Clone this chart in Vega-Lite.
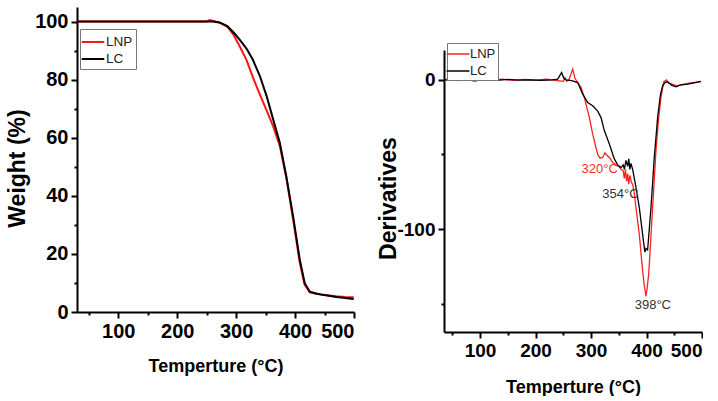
{
  "$schema": "https://vega.github.io/schema/vega-lite/v6.json",
  "background": "white",
  "padding": {"left": 6, "top": 7, "right": 0, "bottom": 0},
  "config": {
    "view": {"stroke": null},
    "axis": {
      "grid": false,
      "domainColor": "#000",
      "domainWidth": 2,
      "tickColor": "#000",
      "tickWidth": 2,
      "labelFont": "Liberation Sans Narrow, Liberation Sans",
      "labelFontWeight": "bold",
      "labelFontSize": 20,
      "labelColor": "#000",
      "labelPadding": 3,
      "titleFont": "Liberation Sans",
      "titleFontWeight": "bold",
      "titleColor": "#000"
    },
    "legend": {
      "fillColor": "white",
      "strokeColor": "#777",
      "padding": 3,
      "symbolType": "M-1.3,0H1.3",
      "symbolSize": 300,
      "symbolStrokeWidth": 2,
      "labelFont": "Liberation Sans Narrow, Liberation Sans",
      "labelFontSize": 13.5,
      "labelColor": "#222",
      "labelOffset": 3,
      "rowPadding": 0
    }
  },
  "datasets": {
    "tga": [
      {"s": "LNP", "T": 30, "W": 100}, {"s": "LNP", "T": 100, "W": 100}, {"s": "LNP", "T": 200, "W": 100}, {"s": "LNP", "T": 250, "W": 100},
      {"s": "LNP", "T": 255, "W": 100.5}, {"s": "LNP", "T": 260, "W": 100.3}, {"s": "LNP", "T": 265, "W": 100}, {"s": "LNP", "T": 272, "W": 99.6},
      {"s": "LNP", "T": 285, "W": 98.2}, {"s": "LNP", "T": 295, "W": 95.6}, {"s": "LNP", "T": 306, "W": 91.5}, {"s": "LNP", "T": 317.5, "W": 86.8},
      {"s": "LNP", "T": 329, "W": 80.5}, {"s": "LNP", "T": 340, "W": 75}, {"s": "LNP", "T": 351.5, "W": 69.5}, {"s": "LNP", "T": 362.7, "W": 64},
      {"s": "LNP", "T": 374, "W": 57.3}, {"s": "LNP", "T": 385, "W": 46.5}, {"s": "LNP", "T": 396.6, "W": 32}, {"s": "LNP", "T": 408, "W": 17},
      {"s": "LNP", "T": 416, "W": 9.5}, {"s": "LNP", "T": 425, "W": 6.8}, {"s": "LNP", "T": 436, "W": 6.3}, {"s": "LNP", "T": 447, "W": 5.9},
      {"s": "LNP", "T": 470, "W": 5.4}, {"s": "LNP", "T": 485, "W": 5.2}, {"s": "LNP", "T": 499.5, "W": 5.1},
      {"s": "LC", "T": 30, "W": 100}, {"s": "LC", "T": 100, "W": 100}, {"s": "LC", "T": 200, "W": 100}, {"s": "LC", "T": 260, "W": 100},
      {"s": "LC", "T": 272, "W": 99.7}, {"s": "LC", "T": 285, "W": 98.4}, {"s": "LC", "T": 295, "W": 96.4}, {"s": "LC", "T": 305, "W": 94},
      {"s": "LC", "T": 317.6, "W": 90.7}, {"s": "LC", "T": 328, "W": 87}, {"s": "LC", "T": 340, "W": 81.4}, {"s": "LC", "T": 351.5, "W": 74.5},
      {"s": "LC", "T": 362.7, "W": 66.4}, {"s": "LC", "T": 374, "W": 58.4}, {"s": "LC", "T": 385, "W": 46.8}, {"s": "LC", "T": 396.6, "W": 33},
      {"s": "LC", "T": 408, "W": 18}, {"s": "LC", "T": 416.4, "W": 9.9}, {"s": "LC", "T": 425, "W": 7}, {"s": "LC", "T": 436, "W": 6.4},
      {"s": "LC", "T": 447, "W": 5.9}, {"s": "LC", "T": 470, "W": 5.2}, {"s": "LC", "T": 485, "W": 4.8}, {"s": "LC", "T": 499.5, "W": 4.5}
    ],
    "dtg": [
      {"s": "LNP", "T": 35, "D": 0}, {"s": "LNP", "T": 45, "D": 0.8}, {"s": "LNP", "T": 60, "D": -0.5}, {"s": "LNP", "T": 75, "D": 0.3},
      {"s": "LNP", "T": 90, "D": -0.8}, {"s": "LNP", "T": 105, "D": 0.4}, {"s": "LNP", "T": 120, "D": -0.3}, {"s": "LNP", "T": 140, "D": 0.5},
      {"s": "LNP", "T": 160, "D": -0.4}, {"s": "LNP", "T": 180, "D": 0.3}, {"s": "LNP", "T": 200, "D": -0.2}, {"s": "LNP", "T": 220, "D": 0.4},
      {"s": "LNP", "T": 240, "D": -0.5}, {"s": "LNP", "T": 250, "D": -1}, {"s": "LNP", "T": 253, "D": 1.5}, {"s": "LNP", "T": 256, "D": -1},
      {"s": "LNP", "T": 260, "D": 0}, {"s": "LNP", "T": 264, "D": 4}, {"s": "LNP", "T": 267, "D": 7.2}, {"s": "LNP", "T": 271, "D": 1},
      {"s": "LNP", "T": 276, "D": -1.8}, {"s": "LNP", "T": 282, "D": -5}, {"s": "LNP", "T": 288, "D": -11.9}, {"s": "LNP", "T": 297, "D": -25.3},
      {"s": "LNP", "T": 303, "D": -36.4}, {"s": "LNP", "T": 308, "D": -44}, {"s": "LNP", "T": 312, "D": -50}, {"s": "LNP", "T": 316, "D": -52.5},
      {"s": "LNP", "T": 321, "D": -52}, {"s": "LNP", "T": 325, "D": -49}, {"s": "LNP", "T": 330, "D": -51}, {"s": "LNP", "T": 335, "D": -53},
      {"s": "LNP", "T": 339, "D": -55.5}, {"s": "LNP", "T": 345, "D": -57}, {"s": "LNP", "T": 350, "D": -58}, {"s": "LNP", "T": 354, "D": -60},
      {"s": "LNP", "T": 358, "D": -61}, {"s": "LNP", "T": 360, "D": -66}, {"s": "LNP", "T": 362, "D": -60}, {"s": "LNP", "T": 364, "D": -68},
      {"s": "LNP", "T": 366, "D": -63}, {"s": "LNP", "T": 368, "D": -70}, {"s": "LNP", "T": 370, "D": -64}, {"s": "LNP", "T": 373, "D": -69},
      {"s": "LNP", "T": 375, "D": -70}, {"s": "LNP", "T": 378, "D": -76}, {"s": "LNP", "T": 381, "D": -85.7}, {"s": "LNP", "T": 387, "D": -103.6},
      {"s": "LNP", "T": 393, "D": -128}, {"s": "LNP", "T": 396, "D": -138}, {"s": "LNP", "T": 399, "D": -145}, {"s": "LNP", "T": 401, "D": -140},
      {"s": "LNP", "T": 404, "D": -130}, {"s": "LNP", "T": 408, "D": -105}, {"s": "LNP", "T": 411, "D": -85.7}, {"s": "LNP", "T": 417, "D": -47.7},
      {"s": "LNP", "T": 422, "D": -25}, {"s": "LNP", "T": 426, "D": -11.9}, {"s": "LNP", "T": 431, "D": -1.4}, {"s": "LNP", "T": 436, "D": 0},
      {"s": "LNP", "T": 440, "D": -2}, {"s": "LNP", "T": 447, "D": -3}, {"s": "LNP", "T": 455, "D": -4}, {"s": "LNP", "T": 465, "D": -3},
      {"s": "LNP", "T": 480, "D": -2}, {"s": "LNP", "T": 498, "D": -1.2},
      {"s": "LC", "T": 35, "D": 0}, {"s": "LC", "T": 50, "D": -0.3}, {"s": "LC", "T": 70, "D": 0.2}, {"s": "LC", "T": 90, "D": -0.5},
      {"s": "LC", "T": 110, "D": 0}, {"s": "LC", "T": 130, "D": -0.4}, {"s": "LC", "T": 150, "D": 0.3}, {"s": "LC", "T": 170, "D": -0.2},
      {"s": "LC", "T": 190, "D": 0}, {"s": "LC", "T": 210, "D": -0.3}, {"s": "LC", "T": 230, "D": 0}, {"s": "LC", "T": 240, "D": 0.5},
      {"s": "LC", "T": 247, "D": 4.9}, {"s": "LC", "T": 251, "D": 1}, {"s": "LC", "T": 255, "D": 0}, {"s": "LC", "T": 265, "D": -0.5},
      {"s": "LC", "T": 276, "D": -1.8}, {"s": "LC", "T": 285, "D": -9.6}, {"s": "LC", "T": 294, "D": -15.2}, {"s": "LC", "T": 303, "D": -17.4},
      {"s": "LC", "T": 312, "D": -21}, {"s": "LC", "T": 318, "D": -25.3}, {"s": "LC", "T": 324, "D": -34}, {"s": "LC", "T": 333, "D": -43},
      {"s": "LC", "T": 342, "D": -53}, {"s": "LC", "T": 348, "D": -57}, {"s": "LC", "T": 354, "D": -58.8}, {"s": "LC", "T": 358, "D": -57},
      {"s": "LC", "T": 360, "D": -60}, {"s": "LC", "T": 363, "D": -54}, {"s": "LC", "T": 366, "D": -58}, {"s": "LC", "T": 368, "D": -53},
      {"s": "LC", "T": 370, "D": -60}, {"s": "LC", "T": 372, "D": -56}, {"s": "LC", "T": 375, "D": -60}, {"s": "LC", "T": 378, "D": -66},
      {"s": "LC", "T": 381, "D": -72}, {"s": "LC", "T": 387, "D": -85.7}, {"s": "LC", "T": 393, "D": -103.6}, {"s": "LC", "T": 397, "D": -115.5},
      {"s": "LC", "T": 399, "D": -113}, {"s": "LC", "T": 402, "D": -114}, {"s": "LC", "T": 405, "D": -100}, {"s": "LC", "T": 408, "D": -85.7},
      {"s": "LC", "T": 414, "D": -52}, {"s": "LC", "T": 420, "D": -25.3}, {"s": "LC", "T": 425, "D": -10}, {"s": "LC", "T": 429, "D": -4},
      {"s": "LC", "T": 434, "D": -1.5}, {"s": "LC", "T": 438, "D": -1.4}, {"s": "LC", "T": 445, "D": -3.5}, {"s": "LC", "T": 453, "D": -4.7},
      {"s": "LC", "T": 460, "D": -3.5}, {"s": "LC", "T": 474, "D": -2.9}, {"s": "LC", "T": 488, "D": -1.8}, {"s": "LC", "T": 498, "D": -1.1}
    ],
    "ann": [
      {"label": "320°C", "T": 315.5, "D": -60},
      {"label": "354°C", "T": 353, "D": -76.7},
      {"label": "398°C", "T": 411.4, "D": -151}
    ]
  },
  "spacing": 22,
  "resolve": {"legend": {"color": "independent"}, "scale": {"color": "independent"}},
  "hconcat": [
    {
      "width": 277,
      "height": 305,
      "data": {"name": "tga"},
      "mark": {"type": "line", "strokeWidth": 2, "clip": true},
      "encoding": {
        "x": {
          "field": "T", "type": "quantitative",
          "scale": {"domain": [30, 500], "nice": false, "zero": false},
          "axis": {
            "title": "Temperture (°C)", "titleFontSize": 18, "titlePadding": 16,
            "values": [50, 100, 150, 200, 250, 300, 350, 400, 450, 500],
            "labelExpr": "datum.value % 100 == 0 ? datum.label : ''",
            "tickSize": {"condition": {"test": "datum.value % 100 == 0", "value": 6}, "value": 3}
          }
        },
        "y": {
          "field": "W", "type": "quantitative",
          "scale": {"domain": [0, 105], "nice": false, "zero": false},
          "axis": {
            "title": "Weight (%)", "titleFontSize": 23, "titleX": -60, "titleY": 161, "titleBaseline": "middle",
            "values": [0, 10, 20, 30, 40, 50, 60, 70, 80, 90, 100],
            "labelExpr": "datum.value % 20 == 0 ? datum.label : ''",
            "tickSize": {"condition": {"test": "datum.value % 20 == 0", "value": 6}, "value": 3}
          }
        },
        "color": {
          "field": "s", "type": "nominal",
          "scale": {"domain": ["LNP", "LC"], "range": ["#ff1414", "#000000"]},
          "legend": {"title": null, "orient": "none", "legendX": 3, "legendY": 22}
        }
      }
    },
    {
      "spacing": 0,
      "resolve": {"legend": {"color": "independent"}, "scale": {"color": "independent"}},
      "vconcat": [
        {
          "width": 258,
          "height": 35,
          "data": {"values": []},
          "mark": {"type": "text"},
          "encoding": {}
        },
        {
          "width": 258,
          "height": 282,
          "encoding": {
            "x": {
              "field": "T", "type": "quantitative",
              "scale": {"domain": [35, 500], "nice": false, "zero": false},
              "axis": {
                "title": "Temperture (°C)", "titleFontSize": 18, "titlePadding": 18, "labelFontSize": 19,
                "values": [50, 100, 150, 200, 250, 300, 350, 400, 450, 500],
                "labelExpr": "datum.value % 100 == 0 ? datum.label : ''",
                "tickSize": {"condition": {"test": "datum.value % 100 == 0", "value": 6}, "value": 3}
              }
            },
            "y": {
              "field": "D", "type": "quantitative",
              "scale": {"domain": [-169, 20], "nice": false, "zero": false},
              "axis": {
                "title": "Derivatives", "titleFontSize": 23, "titleX": -56, "titleY": 148, "titleBaseline": "middle", "labelFontSize": 19,
                "values": [-150, -100, -50, 0],
                "labelExpr": "datum.value % 100 == 0 ? '' + datum.value : ''",
                "tickSize": {"condition": {"test": "datum.value % 100 == 0", "value": 6}, "value": 3}
              }
            }
          },
          "layer": [
            {
              "data": {"name": "dtg"},
              "mark": {"type": "line", "strokeWidth": 1.3, "clip": true},
              "encoding": {
                "color": {
                  "field": "s", "type": "nominal",
                  "scale": {"domain": ["LNP", "LC"], "range": ["#ff2020", "#000000"]},
                  "legend": {"title": null, "orient": "none", "legendX": 3, "legendY": -7, "symbolType": "M-1.45,0H1.45", "symbolSize": 250, "symbolStrokeWidth": 1.5, "labelFontSize": 13, "padding": 2, "rowPadding": 1}
                }
              }
            },
            {
              "data": {"name": "ann"},
              "mark": {"type": "text", "font": "Liberation Sans Narrow, Liberation Sans", "fontSize": 13, "baseline": "middle", "align": "center"},
              "encoding": {
                "text": {"field": "label"},
                "fill": {"condition": {"test": "datum.label == '320°C'", "value": "#f03030"}, "value": "#333333"}
              }
            }
          ]
        }
      ]
    }
  ]
}
